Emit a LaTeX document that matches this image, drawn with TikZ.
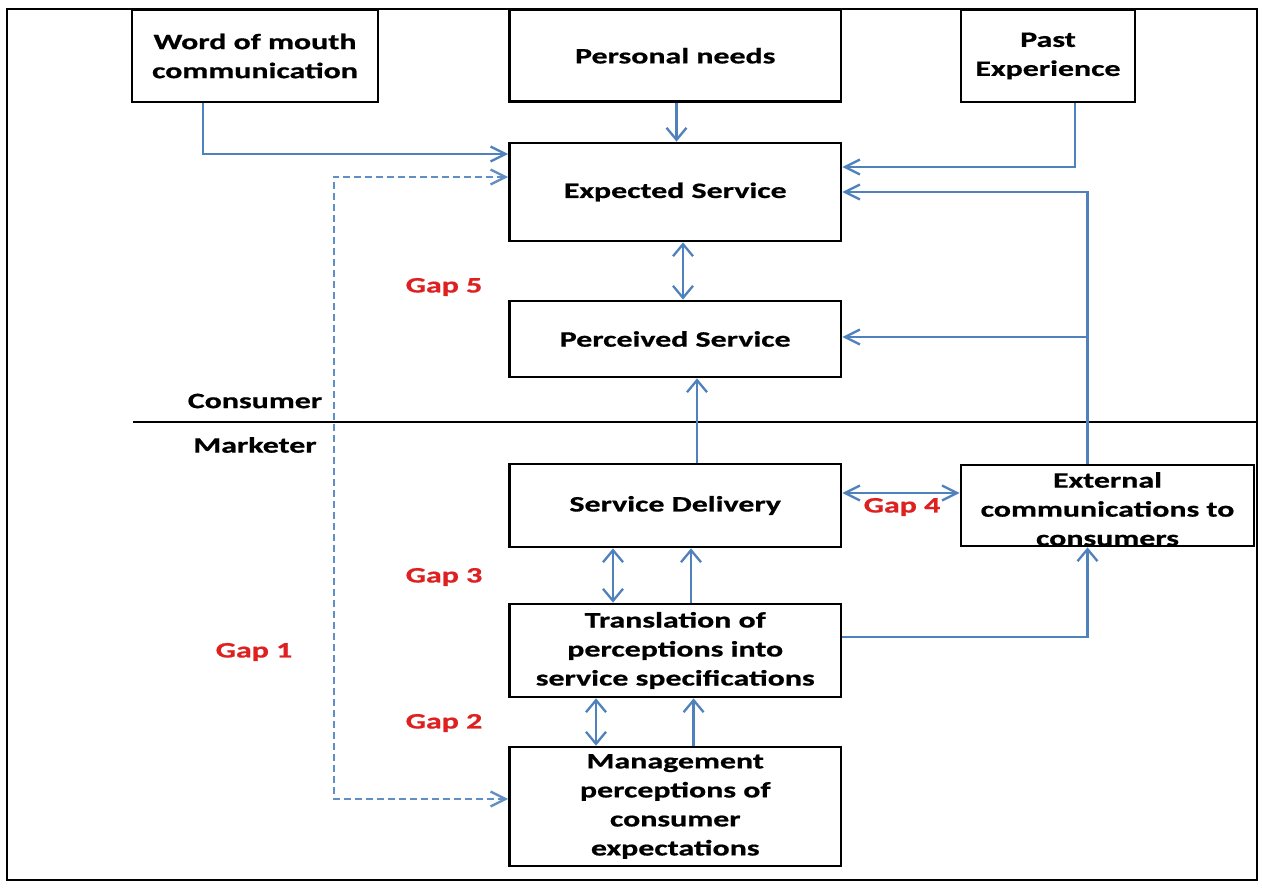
\documentclass[tikz,border=0pt]{standalone}
\usepackage{fontspec}
\usetikzlibrary{arrows.meta}
\newfontfamily\diagfont{Carlito}[FakeStretch=1.45,FakeBold=0.8]
\definecolor{linkblue}{RGB}{79,129,189}
\definecolor{gapred}{RGB}{222,32,32}
\begin{document}
\begin{tikzpicture}[x=1pt,y=-1pt,
  every node/.style={font=\diagfont\bfseries\fontsize{22}{29}\selectfont},
  box/.style={draw=black,line width=2.8pt,fill=white,inner sep=0pt,align=center},
  conn/.style={draw=linkblue,line width=2.3pt},
  dconn/.style={draw=linkblue!90,line width=2pt,dash pattern=on 7pt off 4pt},
  hT/.tip={Straight Barb[length=15pt,width=15pt,line width=2.3pt]},
  vT/.tip={Straight Barb[length=12pt,width=20pt,line width=2.3pt]},
  gap/.style={text=gapred}]
\useasboundingbox (0,0) rectangle (1262,888);
\fill[white] (0,0) rectangle (1262,888);
% outer frame
\draw[line width=2pt] (7,9) rectangle (1257,880);

% consumer / marketer divider
\coordinate (divL) at (132.6,421.5);
\coordinate (divR) at (1257,421.5);
\draw[line width=2pt] (divL) -- (divR);
\node (consumer) at (255,401) {Consumer};
\node (marketer) at (255,445) {Marketer};

% boxes
\node[box,minimum width=246pt,minimum height=92pt] (word) at (255,56) {Word of mouth\\communication};
\node[box,minimum width=331.5pt,minimum height=91.5pt] (needs) at (675.25,55.75) {Personal needs};
\node[box,minimum width=174pt,minimum height=92pt] (past) at (1048,56) {Past\\Experience};
\node[box,minimum width=331.5pt,minimum height=98pt] (expected) at (675.25,192) {Expected Service};
\node[box,minimum width=331.5pt,minimum height=76pt] (perceived) at (675.25,339) {Perceived Service};
\node[box,minimum width=331.5pt,minimum height=83pt] (delivery) at (675.25,505.5) {Service Delivery};
\node[box,minimum width=293pt,minimum height=81pt] (external) at (1107.5,505.5) {};
\node (externaltext) at (1107.5,509) [align=center] {External\\communications to\\consumers};
\node[box,minimum width=331.5pt,minimum height=93pt] (translation) at (675.25,650.5) {Translation of\\perceptions into\\service specifications};
\node[box,minimum width=331.5pt,minimum height=119pt] (mgmt) at (675.25,806.5) {Management\\perceptions of\\consumer\\expectations};

% gap labels
\node[gap] (gap5) at (444,287) {Gap 5};
\node[gap] (gap4) at (902,507) {Gap 4};
\node[gap] (gap3) at (444,577) {Gap 3};
\node[gap] (gap2) at (444,723) {Gap 2};
\node[gap] (gap1) at (254,652) {Gap 1};

% influences on expected service
\draw[conn,-{hT}] (word.south -| 203,0) |- (expected.west |- 0,154);
\draw[conn,-{vT}] (needs.south -| 676.5,0) -- (expected.north -| 676.5,0);
\draw[conn,-{hT}] (past.south -| 1075,0) |- (expected.east |- 0,167);
\draw[conn,-{hT}] (external.north -| 1087.5,0) |- (expected.east |- 0,192);
\draw[conn,-{hT}] (external.north -| 1087.5,0) |- (perceived.east |- 0,337);

% consumer side
\draw[conn,{vT}-{vT}] (expected.south -| 683,0) -- (perceived.north -| 683,0);
\draw[conn,-{vT}] (delivery.north -| 697,0) -- (perceived.south -| 697,0);

% marketer side
\draw[conn,{hT}-{hT}] (delivery.east |- 0,493) -- (external.west |- 0,493);
\draw[conn,{vT}-{vT}] (delivery.south -| 613,0) -- (translation.north -| 613,0);
\draw[conn,-{vT}] (translation.north -| 691,0) -- (delivery.south -| 691,0);
\draw[conn,-{vT}] (translation.east |- 0,637) -| (external.south -| 1087.5,0);
\draw[conn,{vT}-{vT}] (translation.south -| 596,0) -- (mgmt.north -| 596,0);
\draw[conn,-{vT}] (mgmt.north -| 693.6,0) -- (translation.south -| 693.6,0);

% gap 1: management perceptions vs expected service
\coordinate (gapcorner) at (333.5,799);
\draw[dconn,{hT}-{hT}] (expected.west |- 0,177) -| (gapcorner) -- (mgmt.west |- gapcorner);
\end{tikzpicture}
\end{document}
